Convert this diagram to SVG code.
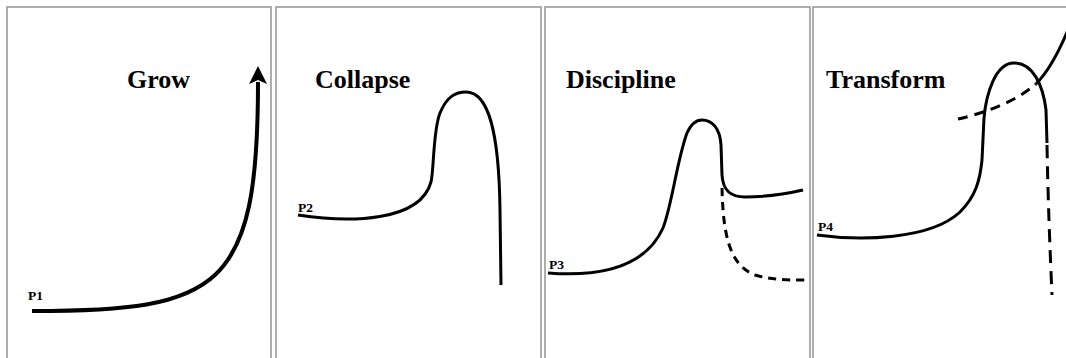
<svg xmlns="http://www.w3.org/2000/svg" width="1066" height="358" viewBox="0 0 1066 358">
<style>
.panel{fill:#fff;stroke:#9a9a9a;stroke-width:1.6}
.title{font-family:"Liberation Serif",serif;font-weight:bold;font-size:26px;fill:#000}
.lbl{font-family:"Liberation Serif",serif;font-weight:bold;font-size:13.5px;fill:#000}
.curve{fill:none;stroke:#000;stroke-width:3;stroke-linecap:butt}
.dash{fill:none;stroke:#000;stroke-width:3;stroke-dasharray:9 7}
</style>
<defs>
<marker id="arrow" markerUnits="userSpaceOnUse" markerWidth="20" markerHeight="20" refX="2" refY="9" orient="auto" viewBox="0 0 20 18">
<path d="M0,0 L18,9 L0,18 L4,9 Z" fill="#000"/>
</marker>
</defs>
<rect width="1066" height="358" fill="#fff"/>
<g id="panel-grow">
<rect class="panel" x="7" y="7" width="264" height="360"/>
<text class="title" x="127" y="88">Grow</text>
<text class="lbl" x="28" y="300">P1</text>
</g>
<g id="panel-collapse">
<rect class="panel" x="276" y="7" width="265" height="360"/>
<text class="title" x="315" y="88">Collapse</text>
<text class="lbl" x="298" y="212">P2</text>
</g>
<g id="panel-discipline">
<rect class="panel" x="545" y="7" width="265" height="360"/>
<text class="title" x="566" y="88">Discipline</text>
<text class="lbl" x="549" y="269">P3</text>
</g>
<g id="panel-transform">
<rect class="panel" x="813" y="7" width="270" height="360"/>
<text class="title" x="826" y="88">Transform</text>
<text class="lbl" x="818" y="231">P4</text>
</g>
<g id="connectors">
<path class="curve" style="stroke-width:4" d="M32,311 C220,311 258,290 258,82" marker-end="url(#arrow)"/>
<path class="curve" d="M298,215 C350,223 420,222 431,182 C434,170 433,130 440,113 C447,96 456,92 466,92 C488,92 499,130 500,210 L501,285"/>
<path class="curve" d="M548,273 C600,277 645,268 663,228 C672,205 677,160 687,133 C692,122 697,120 702,120 C712,120 720,128 721,145 L722,175 C723,192 732,197 745,197 C770,197 790,193 803,190"/>
<path class="dash" style="stroke-dasharray:8 6" d="M722,188 C723,230 728,265 755,275 C775,281 795,280 809,280"/>
<path class="curve" d="M817,235 C860,241 930,240 960,212 C976,196 980,180 982,160 L984,118 C986,95 995,63 1014,63 C1033,63 1043,85 1046,110 L1047,143"/>
<path class="dash" style="stroke-dasharray:13 8" d="M1047,145 C1048,200 1050,250 1052,295"/>
<path class="dash" style="stroke-dasharray:10 7" d="M958,119 C985,113 1015,102 1036,84"/>
<path class="curve" d="M1036,84 C1048,72 1058,55 1070,25"/>
</g>
</svg>
